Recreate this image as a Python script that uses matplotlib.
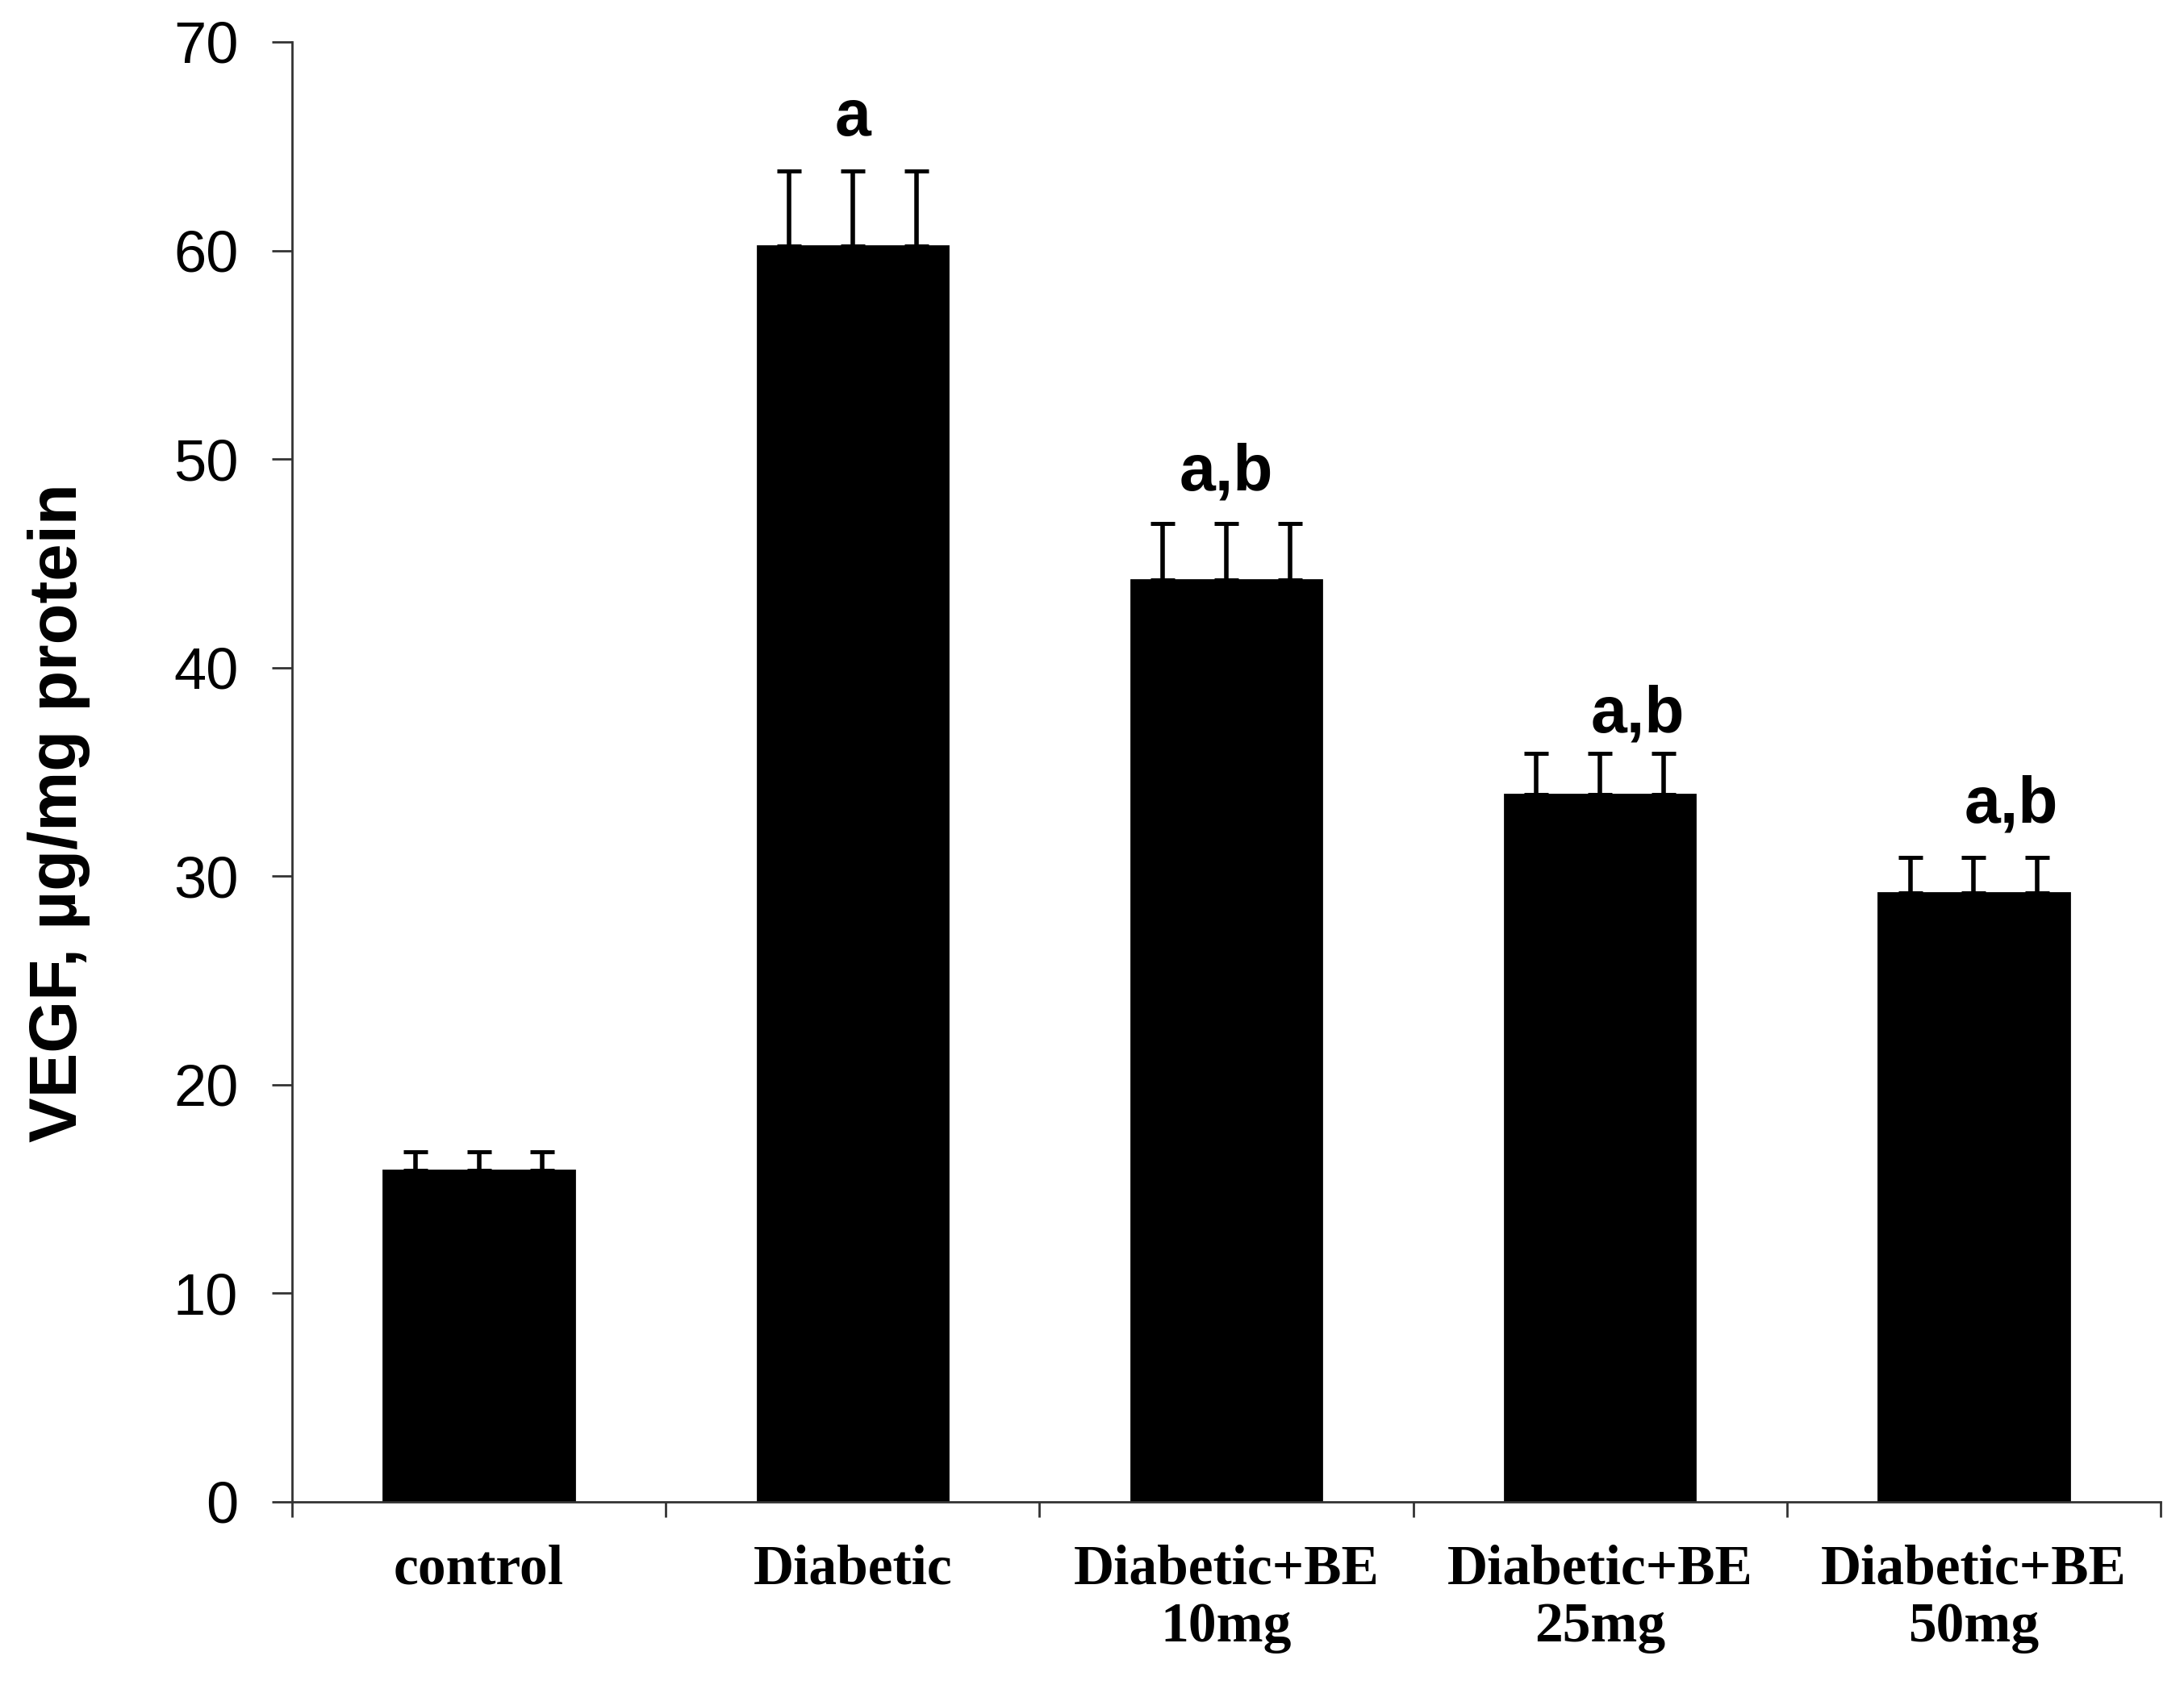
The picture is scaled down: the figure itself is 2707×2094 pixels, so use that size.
import matplotlib

matplotlib.use("Agg")
import matplotlib.pyplot as plt
import numpy as np

# VEGF per group, mean and upper error (SE)
groups = ["control", "Diabetic", "Diabetic+BE\n10mg", "Diabetic+BE\n25mg", "Diabetic+BE\n50mg"]
vegf_mean = [15.9, 60.2, 44.2, 33.9, 29.2]
vegf_err = [0.9, 3.6, 2.7, 2.0, 1.7]
sig_letters = ["", "a", "a,b", "a,b", "a,b"]
y_ticks = [0, 10, 20, 30, 40, 50, 60, 70]

SANS = "Liberation Sans"
SERIF = "Liberation Serif"

fig = plt.figure(figsize=(13.535, 10.47), dpi=200)
ax = fig.add_axes([0.1337, 0.1108, 0.8556, 0.8644])

x = np.arange(len(groups))
ax.bar(x, vegf_mean, width=0.51, color="black", edgecolor="black", zorder=2)

# the original shows three identical error whiskers per bar
lower = np.zeros(len(groups))
for off in (-0.17, 0.0, 0.17):
    ax.errorbar(x + off, vegf_mean, yerr=[lower, vegf_err], fmt="none",
                ecolor="black", elinewidth=2.0, capsize=5.4, capthick=1.8, zorder=3)

# significance letters (last two sit a bit right of centre in the original)
nudge = [0, 0, 0, 0.1, 0.1]
gap = [0, 1.7, 1.6, 1.0, 1.7]
for i, lab in enumerate(sig_letters):
    if not lab:
        continue
    ax.text(x[i] + nudge[i], vegf_mean[i] + vegf_err[i] + gap[i], lab,
            ha="center", va="baseline", fontsize=29, fontweight="bold",
            family=SANS, color="black")

ax.set_xlim(-0.5, len(groups) - 0.5)
ax.set_ylim(0, 70)
ax.set_yticks(y_ticks)
ax.set_yticklabels([str(t) for t in y_ticks], family=SANS, fontsize=26)

ax.set_xticks(np.arange(len(groups) + 1) - 0.5)
ax.set_xticklabels([])
ax.set_xticks(x, minor=True)
ax.set_xticklabels(groups, minor=True, family=SERIF, fontweight="bold",
                   fontsize=25, linespacing=1.15)
ax.tick_params(axis="x", which="minor", length=0, pad=19)
ax.tick_params(axis="x", which="major", direction="out", length=7, width=1.0, color="#333333")
ax.tick_params(axis="y", direction="out", length=9, width=1.0, pad=15, color="#333333")

for side in ("top", "right"):
    ax.spines[side].set_visible(False)
for side in ("left", "bottom"):
    ax.spines[side].set_linewidth(1.0)
    ax.spines[side].set_color("#333333")

ax.set_ylabel("VEGF, µg/mg protein", family=SANS, fontweight="bold", fontsize=30)
ax.yaxis.set_label_coords(-0.108, 0.472)

fig.savefig("out.png", dpi=200, facecolor="white")
